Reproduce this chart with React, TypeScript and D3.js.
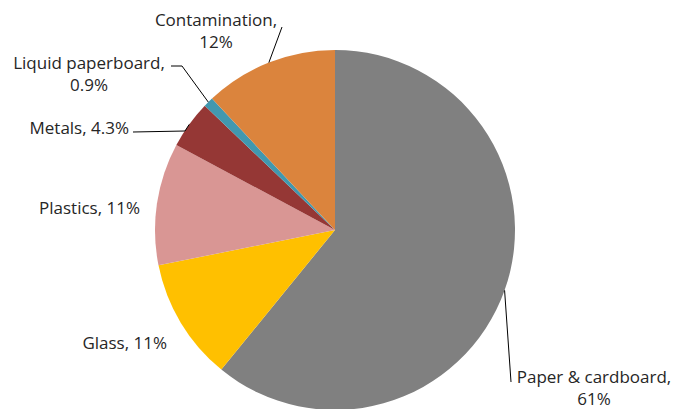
import React from "react";
import * as d3 from "d3";

const categories = ["Paper & cardboard", "Glass", "Plastics", "Metals", "Liquid paperboard", "Contamination"];
const values = [61, 11, 11, 4.3, 0.9, 12];
const valueLabels = ["61%", "11%", "11%", "4.3%", "0.9%", "12%"];
const colors = ["#808080", "#FFC000", "#D99694", "#953735", "#4198AF", "#DB843D"];

const labelLayout = [
  { x: 594, y: 383, anchor: "middle", two: true, lx: 511, ly: 382, elbow: null },
  { x: 167, y: 349, anchor: "end", two: false, lx: null, ly: null, elbow: null },
  { x: 140, y: 214, anchor: "end", two: false, lx: null, ly: null, elbow: null },
  { x: 129, y: 134, anchor: "end", two: false, lx: 133, ly: 132, elbow: [185, 131] },
  { x: 89, y: 69, anchor: "middle", two: true, lx: 171, ly: 66, elbow: [182, 66] },
  { x: 216, y: 26, anchor: "middle", two: true, lx: 282, ly: 27, elbow: null },
];

export default function App() {
  const width = 675;
  const height = 409;
  const cx = 335;
  const cy = 230;
  const r = 180;

  const pie = d3.pie<number>().sort(null).value((d) => d);
  const arcs = pie(values);
  const arc = d3.arc<d3.PieArcDatum<number>>().innerRadius(0).outerRadius(r);

  return (
    <svg width={width} height={height} style={{ position: "absolute", left: 0, top: 0 }}>
      <rect width={width} height={height} fill="#fff" />
      <g transform={`translate(${cx},${cy})`}>
        {arcs.map((a, i) => (
          <path key={i} d={arc(a) || ""} fill={colors[i]} />
        ))}
      </g>
      {arcs.map((a, i) => {
        const L = labelLayout[i];
        const mid = (a.startAngle + a.endAngle) / 2;
        const ex = cx + r * Math.sin(mid);
        const ey = cy - r * Math.cos(mid);
        const pts: [number, number][] = [];
        if (L.lx !== null) {
          pts.push([L.lx, L.ly as number]);
          if (L.elbow) pts.push(L.elbow as [number, number]);
          pts.push([ex, ey]);
        }
        return (
          <g key={i}>
            {pts.length > 0 && (
              <path d={d3.line()(pts) || ""} fill="none" stroke="#000" strokeWidth={1} />
            )}
            <text
              x={L.x}
              y={L.y}
              textAnchor={L.anchor as any}
              fontFamily="'Open Sans', sans-serif"
              fontSize={17}
              fill="#262626"
            >
              {L.two ? (
                <>
                  <tspan x={L.x}>{categories[i] + ","}</tspan>
                  <tspan x={L.x} dy={22}>{valueLabels[i]}</tspan>
                </>
              ) : (
                categories[i] + ", " + valueLabels[i]
              )}
            </text>
          </g>
        );
      })}
    </svg>
  );
}
